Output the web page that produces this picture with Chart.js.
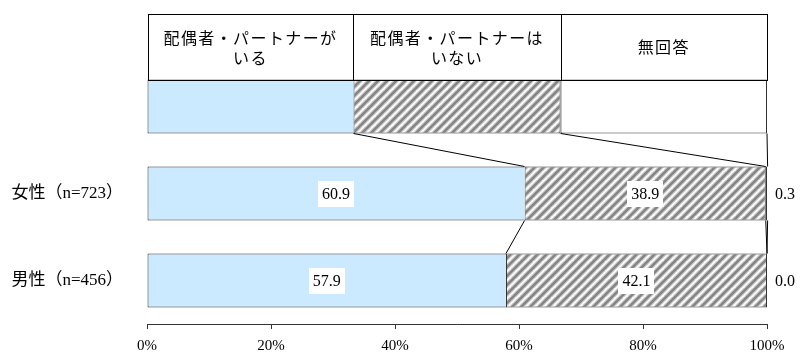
<!DOCTYPE html>
<html>
<head>
<meta charset="utf-8">
<script src="https://cdn.jsdelivr.net/npm/chart.js@4/dist/chart.umd.min.js"></script>
<style>
  html, body { margin: 0; padding: 0; background: #fff; }
  #wrap { width: 803px; height: 354px; }
</style>
</head>
<body>
<div id="wrap"><canvas id="c" width="803" height="354"></canvas></div>
<script>
// Respondent groups (first row is the key swatch under the header cells)
const groups = ['女性（n=723）', '男性（n=456）'];
const seriesNames = [
  ['配偶者・パートナーが', 'いる'],
  ['配偶者・パートナーは', 'いない'],
  ['無回答']
];
// Percentages per group
const withPartner    = [60.9, 57.9];
const withoutPartner = [38.9, 42.1];
const noAnswer       = [0.3, 0.0];
// Widths of the key swatch segments
const keySwatch = [33.3, 33.4, 33.3];
const xTickValues = [0, 20, 40, 60, 80, 100];

const SERIF = '"Liberation Serif", "Noto Sans CJK JP", serif';
const JP = '"Noto Sans CJK JP", "Liberation Serif", sans-serif';
const BLUE = '#cceaff';
const EDGE = '#333333';

function makeHatch() {
  const s = 9;
  const cv = document.createElement('canvas');
  cv.width = cv.height = s;
  const g = cv.getContext('2d');
  g.fillStyle = '#ffffff';
  g.fillRect(0, 0, s, s);
  const stripe = (color, w) => {
    g.strokeStyle = color;
    g.lineWidth = w;
    for (const o of [-s, 0, s]) {
      g.beginPath();
      g.moveTo(o - 1, s + 1);
      g.lineTo(o + s + 1, -1);
      g.stroke();
    }
  };
  stripe('#cfcfcf', 5);
  stripe('#858585', 2.6);
  return g.createPattern(cv, 'repeat');
}
const HATCH = makeHatch();

const rowLabels = [''].concat(groups);
const edges = [
  { left: 1, top: 1, bottom: 1, right: 0 },
  1,
  1
];
const datasets = [
  { label: seriesNames[0].join(''), data: [keySwatch[0]].concat(withPartner), backgroundColor: BLUE },
  { label: seriesNames[1].join(''), data: [keySwatch[1]].concat(withoutPartner), backgroundColor: HATCH },
  { label: seriesNames[2].join(''), data: [keySwatch[2]].concat(noAnswer), backgroundColor: '#ffffff' }
].map((d, i) => Object.assign(d, {
  borderColor: EDGE,
  borderWidth: edges[i],
  borderSkipped: false,
  barPercentage: 0.62,
  categoryPercentage: 1
}));

// Header cells above the key swatch, with series names
const headerPlugin = {
  id: 'headerCells',
  afterDatasetsDraw(chart) {
    const ctx = chart.ctx;
    const metas = [0, 1, 2].map(i => chart.getDatasetMeta(i));
    const first = metas[0].data[0];
    const top = first.y - first.height / 2;
    const headTop = top - 66;
    ctx.save();
    ctx.strokeStyle = '#000';
    ctx.lineWidth = 1;
    metas.forEach((m, i) => {
      const el = m.data[0];
      const x0 = Math.round(el.base) + 0.5;
      const x1 = Math.round(el.x) + 0.5;
      ctx.strokeRect(x0, Math.round(headTop) + 0.5, x1 - x0, Math.round(top) - Math.round(headTop));
      const cx = (el.base + el.x) / 2;
      ctx.fillStyle = '#000';
      ctx.font = '16px ' + JP;
      ctx.letterSpacing = '1.4px';
      ctx.textAlign = 'center';
      ctx.textBaseline = 'middle';
      const lines = seriesNames[i];
      if (lines.length === 2) {
        ctx.fillText(lines[0], cx, headTop + 24);
        ctx.fillText(lines[1], cx, headTop + 44);
      } else {
        ctx.fillText(lines[0], cx, headTop + 33);
      }
    });
    ctx.restore();
  }
};

// Series lines joining segment ends between neighbouring rows
const connectorPlugin = {
  id: 'seriesLines',
  afterDatasetsDraw(chart) {
    const ctx = chart.ctx;
    ctx.save();
    ctx.strokeStyle = '#000';
    ctx.lineWidth = 1;
    for (let d = 0; d < 3; d++) {
      const data = chart.getDatasetMeta(d).data;
      for (let r = 0; r < data.length - 1; r++) {
        const a = data[r], b = data[r + 1];
        ctx.beginPath();
        ctx.moveTo(a.x, a.y + a.height / 2);
        ctx.lineTo(b.x, b.y - b.height / 2);
        ctx.stroke();
      }
    }
    ctx.restore();
  }
};

// Value labels: boxed inside for the two main segments, outside right for 無回答
const valuePlugin = {
  id: 'valueLabels',
  afterDatasetsDraw(chart) {
    const ctx = chart.ctx;
    ctx.save();
    ctx.font = '16px ' + SERIF;
    ctx.textBaseline = 'middle';
    for (let d = 0; d < 3; d++) {
      const meta = chart.getDatasetMeta(d);
      const vals = chart.data.datasets[d].data;
      for (let r = 1; r < meta.data.length; r++) {
        const el = meta.data[r];
        const txt = vals[r].toFixed(1);
        if (d < 2) {
          const cx = (el.base + el.x) / 2;
          const w = ctx.measureText(txt).width + 8;
          ctx.fillStyle = '#fff';
          ctx.fillRect(Math.round(cx - w / 2), Math.round(el.y - 13), Math.round(w), 26);
          ctx.fillStyle = '#000';
          ctx.textAlign = 'center';
          ctx.fillText(txt, cx, el.y + 1);
        } else {
          ctx.fillStyle = '#000';
          ctx.textAlign = 'left';
          ctx.fillText(txt, chart.chartArea.right + 8, el.y + 1);
        }
      }
    }
    ctx.restore();
  }
};

new Chart(document.getElementById('c'), {
  type: 'bar',
  data: { labels: rowLabels, datasets },
  options: {
    indexAxis: 'y',
    responsive: false,
    animation: false,
    devicePixelRatio: 1,
    layout: { padding: { left: 0, right: 36, top: 63, bottom: 0 } },
    plugins: { legend: { display: false }, tooltip: { enabled: false } },
    scales: {
      x: {
        stacked: true,
        min: 0,
        max: 100,
        afterFit: s => { s.height = 30; s.paddingLeft = 0; s.paddingRight = 0; },
        afterBuildTicks: s => { s.ticks = xTickValues.map(v => ({ value: v })); },
        grid: { display: true, drawOnChartArea: false, drawTicks: true, tickLength: 5, color: EDGE },
        border: { display: true, color: EDGE },
        ticks: { font: { family: SERIF, size: 15 }, color: '#000', padding: 8, callback: v => v + '%' }
      },
      y: {
        stacked: true,
        afterFit: s => { s.width = 147; s.paddingTop = 0; s.paddingBottom = 0; },
        grid: { display: false, drawTicks: false },
        border: { display: false },
        ticks: { font: { family: SERIF, size: 17 }, color: '#000', padding: 24 }
      }
    }
  },
  plugins: [headerPlugin, connectorPlugin, valuePlugin]
});
</script>
</body>
</html>
